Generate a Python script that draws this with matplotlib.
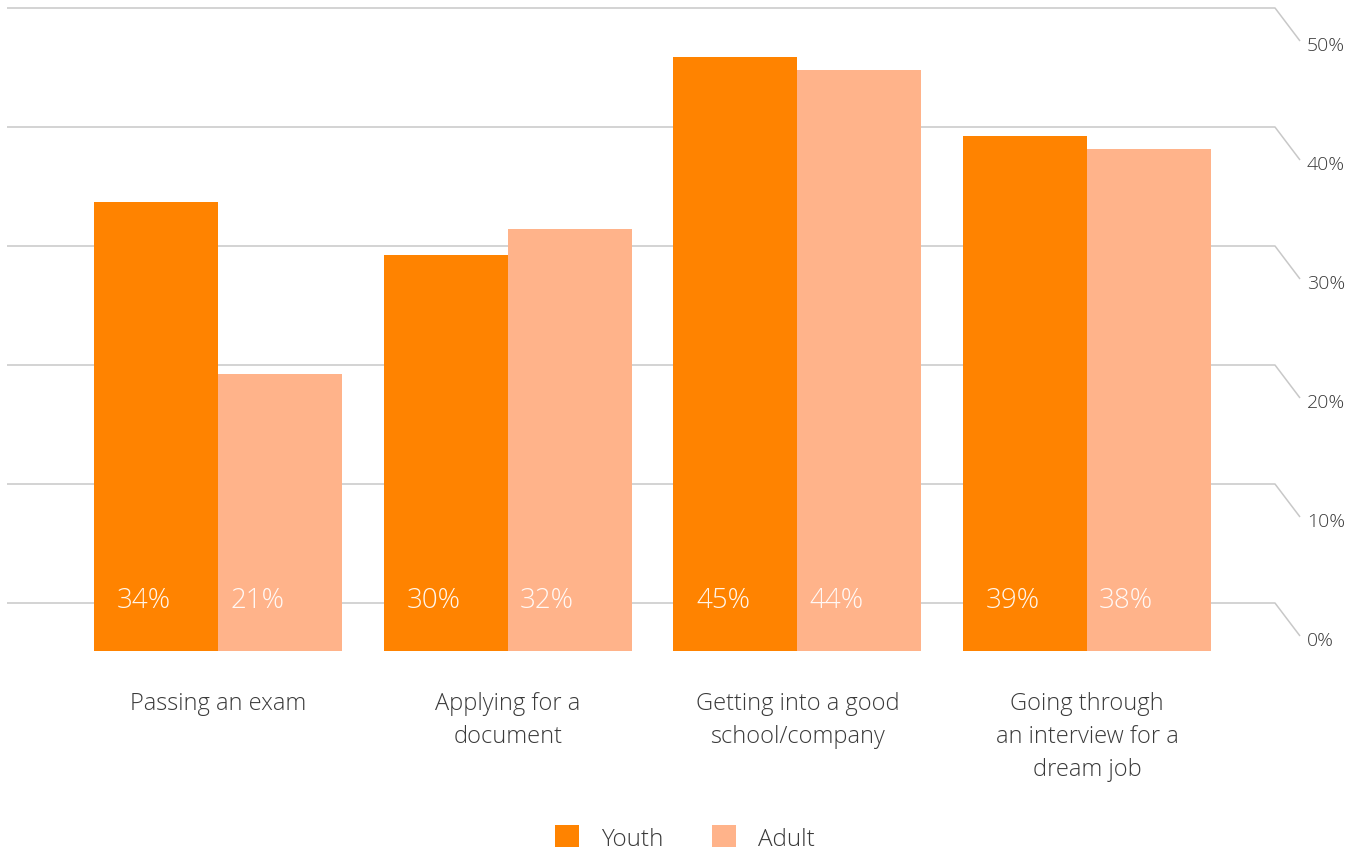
import matplotlib
matplotlib.use("Agg")
import matplotlib.pyplot as plt
from matplotlib.patches import Patch
import numpy as np

plt.rcParams['font.family'] = ['Open Sans', 'DejaVu Sans']

categories = ["Passing an exam", "Applying for a\ndocument",
              "Getting into a good\nschool/company",
              "Going through\nan interview for a\ndream job"]
youth = [34, 30, 45, 39]
adult = [21, 32, 44, 38]
tick_values = [0, 10, 20, 30, 40, 50]
tick_labels = ["0%", "10%", "20%", "30%", "40%", "50%"]
series_names = ["Youth", "Adult"]

YOUTH_COLOR = "#FF8300"
ADULT_COLOR = "#FFB38A"
TEXT_COLOR = "#3a3a3a"
GRID_COLOR = "#c8c8c8"

W, H = 1360, 854
fig = plt.figure(figsize=(W / 100, H / 100), dpi=100)

# back wall with gridlines and a slanted link to each tick label
ax_grid = fig.add_axes([7 / W, (H - 604) / H, 1293 / W, 595 / H])
ax_grid.set_xlim(0, 1)
ax_grid.set_ylim(0, 50)
ax_grid.axis("off")
bend = (1275 - 7) / 1293
drop = 33 * 50 / 595
label_drop = 37 * 50 / 595
ytr = ax_grid.get_yaxis_transform()
for v, lab in zip(tick_values, tick_labels):
    ax_grid.plot([0, bend, 1.0], [v, v, v - drop], color=GRID_COLOR,
                 lw=1.1, clip_on=False, solid_capstyle="butt")
    ax_grid.text(1.0 + 7 / 1293, v - label_drop, lab, transform=ytr,
                 ha="left", va="center", fontsize=14, color=TEXT_COLOR,
                 fontweight="light")

# bars in front
ax = fig.add_axes([0, (H - 652) / H, 1, 652 / H], zorder=3)
ax.patch.set_alpha(0)
px_per_group = 289.6
x0 = 218.2
ax.set_xlim(-x0 / px_per_group, (W - x0) / px_per_group)
ax.set_ylim(0, 652 / 13.2)
ax.axis("off")

x = np.arange(len(categories))
bw = 124 / px_per_group
ax.bar(x - bw / 2, youth, width=bw, color=YOUTH_COLOR, linewidth=0)
ax.bar(x + bw / 2, adult, width=bw, color=ADULT_COLOR, linewidth=0)

for i in range(len(categories)):
    ax.text(x[i] - bw / 2 - 12 / px_per_group, 3.33, f"{youth[i]}%",
            ha="center", va="baseline", fontsize=20, color="white",
            alpha=0.92, fontweight="light")
    ax.text(x[i] + bw / 2 - 23 / px_per_group, 3.33, f"{adult[i]}%",
            ha="center", va="baseline", fontsize=20, color="white",
            alpha=0.92, fontweight="light")
    ax.text(x[i], -3.05, categories[i], ha="center", va="top", fontsize=17,
            color=TEXT_COLOR, linespacing=1.5, clip_on=False,
            fontweight="light")

handles = [Patch(facecolor=YOUTH_COLOR, edgecolor="none"),
           Patch(facecolor=ADULT_COLOR, edgecolor="none")]
fig.legend(handles, series_names, loc="lower center",
           bbox_to_anchor=(685 / W, 0.0), ncol=2, frameon=False,
           prop={"size": 17.5, "weight": "light"},
           handlelength=1.0, handleheight=1.0,
           handletextpad=0.9, columnspacing=2.0, borderpad=0.0,
           borderaxespad=0.1, labelcolor=TEXT_COLOR)

fig.savefig("out.png", dpi=100)
